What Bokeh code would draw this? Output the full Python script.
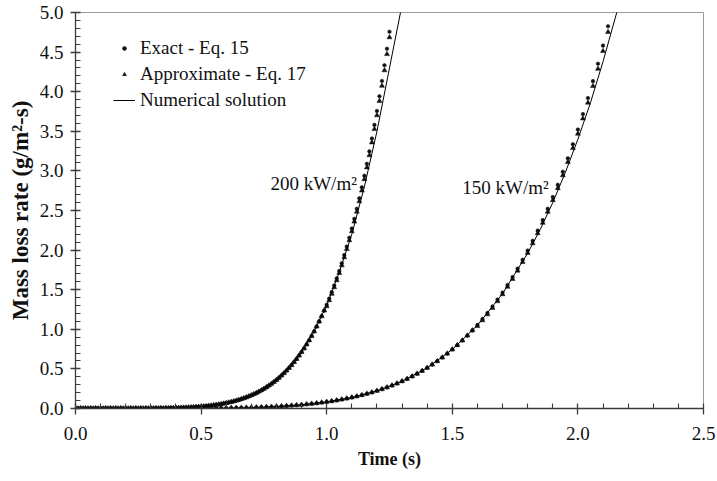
from bokeh.plotting import figure
from bokeh.models import Range1d, FixedTicker, Legend, LegendItem, PrintfTickFormatter
from bokeh.core.properties import value
from bokeh.embed import file_html
from bokeh.resources import INLINE

# ---------------- data ----------------
x_ticks = [0.0, 0.5, 1.0, 1.5, 2.0, 2.5]
x_minor = [0.1, 0.2, 0.3, 0.4, 0.6, 0.7, 0.8, 0.9, 1.1, 1.2, 1.3, 1.4,
           1.6, 1.7, 1.8, 1.9, 2.1, 2.2, 2.3, 2.4]
y_ticks = [0.0, 0.5, 1.0, 1.5, 2.0, 2.5, 3.0, 3.5, 4.0, 4.5, 5.0]
y_minor = [0.1, 0.2, 0.3, 0.4, 0.6, 0.7, 0.8, 0.9, 1.1, 1.2, 1.3, 1.4,
           1.6, 1.7, 1.8, 1.9, 2.1, 2.2, 2.3, 2.4, 2.6, 2.7, 2.8, 2.9,
           3.1, 3.2, 3.3, 3.4, 3.6, 3.7, 3.8, 3.9, 4.1, 4.2, 4.3, 4.4,
           4.6, 4.7, 4.8, 4.9]

# 200 kW/m2 markers (time step 0.01 s)
t200 = [0.00, 0.01, 0.02, 0.03, 0.04, 0.05, 0.06, 0.07, 0.08, 0.09,
        0.10, 0.11, 0.12, 0.13, 0.14, 0.15, 0.16, 0.17, 0.18, 0.19,
        0.20, 0.21, 0.22, 0.23, 0.24, 0.25, 0.26, 0.27, 0.28, 0.29,
        0.30, 0.31, 0.32, 0.33, 0.34, 0.35, 0.36, 0.37, 0.38, 0.39,
        0.40, 0.41, 0.42, 0.43, 0.44, 0.45, 0.46, 0.47, 0.48, 0.49,
        0.50, 0.51, 0.52, 0.53, 0.54, 0.55, 0.56, 0.57, 0.58, 0.59,
        0.60, 0.61, 0.62, 0.63, 0.64, 0.65, 0.66, 0.67, 0.68, 0.69,
        0.70, 0.71, 0.72, 0.73, 0.74, 0.75, 0.76, 0.77, 0.78, 0.79,
        0.80, 0.81, 0.82, 0.83, 0.84, 0.85, 0.86, 0.87, 0.88, 0.89,
        0.90, 0.91, 0.92, 0.93, 0.94, 0.95, 0.96, 0.97, 0.98, 0.99,
        1.00, 1.01, 1.02, 1.03, 1.04, 1.05, 1.06, 1.07, 1.08, 1.09,
        1.10, 1.11, 1.12, 1.13, 1.14, 1.15, 1.16, 1.17, 1.18, 1.19,
        1.20, 1.21, 1.22, 1.23, 1.24, 1.25]
exact200 = [0, 0, 0, 0, 0, 0, 0, 0, 0, 0,
            0, 0, 0, 0, 0, 0, 0, 0, 0, 0,
            0.0001, 0.0002, 0.0002, 0.0003, 0.0003, 0.0004, 0.0005, 0.0007, 0.0008, 0.0010,
            0.0012, 0.0015, 0.0018, 0.0022, 0.0026, 0.0030, 0.0036, 0.0042, 0.0049, 0.0057,
            0.0066, 0.0076, 0.0087, 0.0100, 0.0114, 0.0130, 0.0147, 0.0167, 0.0188, 0.0212,
            0.0238, 0.0267, 0.0299, 0.0334, 0.0372, 0.0414, 0.0459, 0.0508, 0.0562, 0.0620,
            0.0684, 0.0752, 0.0827, 0.0907, 0.0993, 0.1086, 0.1186, 0.1294, 0.1410, 0.1534,
            0.1666, 0.1809, 0.1961, 0.2125, 0.2299, 0.2484, 0.2682, 0.2891, 0.3116, 0.3355,
            0.3606, 0.3875, 0.4160, 0.4462, 0.4781, 0.5122, 0.5477, 0.5857, 0.6256, 0.6683,
            0.7125, 0.7596, 0.8090, 0.8607, 0.9158, 0.9734, 1.0346, 1.0986, 1.1653, 1.2361,
            1.310, 1.388, 1.469, 1.554, 1.643, 1.737, 1.835, 1.937, 2.044, 2.156,
            2.272, 2.395, 2.522, 2.655, 2.793, 2.939, 3.089, 3.246, 3.410, 3.581,
            3.757, 3.942, 4.136, 4.334, 4.542, 4.757]
approx200 = exact200[:100] + [
            1.290, 1.367, 1.447, 1.531, 1.618, 1.711, 1.807, 1.908, 2.014, 2.124,
            2.238, 2.359, 2.484, 2.615, 2.751, 2.895, 3.043, 3.197, 3.359, 3.527,
            3.701, 3.883, 4.074, 4.269, 4.474, 4.686]

# 150 kW/m2 markers (time step 0.02 s)
t150 = [0.00, 0.02, 0.04, 0.06, 0.08, 0.10, 0.12, 0.14, 0.16, 0.18,
        0.20, 0.22, 0.24, 0.26, 0.28, 0.30, 0.32, 0.34, 0.36, 0.38,
        0.40, 0.42, 0.44, 0.46, 0.48, 0.50, 0.52, 0.54, 0.56, 0.58,
        0.60, 0.62, 0.64, 0.66, 0.68, 0.70, 0.72, 0.74, 0.76, 0.78,
        0.80, 0.82, 0.84, 0.86, 0.88, 0.90, 0.92, 0.94, 0.96, 0.98,
        1.00, 1.02, 1.04, 1.06, 1.08, 1.10, 1.12, 1.14, 1.16, 1.18,
        1.20, 1.22, 1.24, 1.26, 1.28, 1.30, 1.32, 1.34, 1.36, 1.38,
        1.40, 1.42, 1.44, 1.46, 1.48, 1.50, 1.52, 1.54, 1.56, 1.58,
        1.60, 1.62, 1.64, 1.66, 1.68, 1.70, 1.72, 1.74, 1.76, 1.78,
        1.80, 1.82, 1.84, 1.86, 1.88, 1.90, 1.92, 1.94, 1.96, 1.98,
        2.00, 2.02, 2.04, 2.06, 2.08, 2.10, 2.12]
exact150 = [0, 0, 0, 0, 0, 0, 0, 0, 0, 0,
            0, 0, 0, 0, 0, 0.0001, 0.0002, 0.0002, 0.0003, 0.0004,
            0.0006, 0.0008, 0.0010, 0.0013, 0.0016, 0.0020, 0.0024, 0.0030, 0.0036, 0.0044,
            0.0053, 0.0063, 0.0075, 0.0088, 0.0104, 0.0122, 0.0142, 0.0164, 0.0189, 0.0218,
            0.0250, 0.0286, 0.0325, 0.0370, 0.0418, 0.0472, 0.0532, 0.0597, 0.0669, 0.0748,
            0.0834, 0.0928, 0.1031, 0.1143, 0.1264, 0.1396, 0.1538, 0.1691, 0.1858, 0.2039,
            0.2231, 0.2441, 0.2666, 0.2905, 0.3163, 0.3440, 0.3734, 0.4053, 0.4391, 0.4747,
            0.5132, 0.5543, 0.5975, 0.6434, 0.6928, 0.7453, 0.8001, 0.8590, 0.9204, 0.9861,
            1.0555, 1.1286, 1.2056, 1.2879, 1.3744, 1.4638, 1.5590, 1.6603, 1.7665, 1.8776,
            1.9937, 2.1170, 2.2456, 2.3797, 2.5219, 2.6698, 2.8236, 2.9893, 3.1582, 3.3368,
            3.5220, 3.7173, 3.9196, 4.1330, 4.3536, 4.5814, 4.8259]
approx150 = exact150[:80] + [
            1.040, 1.112, 1.188, 1.269, 1.354, 1.442, 1.536, 1.635, 1.740, 1.849,
            1.964, 2.085, 2.212, 2.344, 2.484, 2.630, 2.781, 2.944, 3.111, 3.287,
            3.469, 3.661, 3.861, 4.071, 4.288, 4.513, 4.753]

# numerical solution curves
num200_t = [0, 0.3, 0.4, 0.5, 0.55, 0.6, 0.65, 0.7, 0.75, 0.8, 0.85, 0.9, 0.95,
            1.0, 1.05, 1.1, 1.15, 1.2, 1.25, 1.3]
num200_v = [0, 0.001, 0.0066, 0.0238, 0.0414, 0.0684, 0.1086, 0.1666, 0.2484, 0.3606,
            0.5122, 0.7125, 0.9734, 1.30, 1.72, 2.20, 2.80, 3.50, 4.30, 5.10]
num150_t = [0, 0.4, 0.5, 0.6, 0.7, 0.8, 0.9, 1.0, 1.1, 1.2, 1.3, 1.4, 1.5, 1.6,
            1.7, 1.8, 1.85, 1.9, 1.95, 2.0, 2.05, 2.1, 2.16]
num150_v = [0, 0.0006, 0.002, 0.0053, 0.0122, 0.025, 0.0472, 0.0834, 0.1396, 0.2231,
            0.344, 0.5132, 0.7453, 1.05, 1.45, 1.96, 2.26, 2.60, 2.98, 3.40, 3.86, 4.38, 5.06]

# curve labels
label_x = [0.776, 1.54]
label_y = [2.845, 2.79]
label_text = ["200 kW/m\u00b2", "150 kW/m\u00b2"]

legend_labels = ["Exact - Eq. 15", "Approximate - Eq. 17", "Numerical solution"]

# ---------------- figure ----------------
SERIF = "Liberation Serif"
SERIF_BOLD = "serif"
INK = "#111111"
AXIS = "#3c3c3c"

p = figure(width=716, height=474, output_backend="svg", toolbar_location=None,
           x_range=Range1d(0, 2.5), y_range=Range1d(0, 5),
           min_border_left=75, min_border_right=13, min_border_top=12, min_border_bottom=66)
p.grid.visible = False
p.background_fill_color = "white"
p.border_fill_color = "white"
p.outline_line_color = "#9a9a9a"
p.outline_line_width = 1

for ax, ticks, minor in ((p.xaxis, x_ticks, x_minor), (p.yaxis, y_ticks, y_minor)):
    ax.ticker = FixedTicker(ticks=ticks, minor_ticks=minor)
    ax.formatter = PrintfTickFormatter(format="%.1f")
    ax.axis_line_color = AXIS
    ax.axis_line_width = 1.3
    ax.major_tick_line_color = AXIS
    ax.minor_tick_line_color = AXIS
    ax.major_tick_line_width = 1.3
    ax.minor_tick_line_width = 1.1
    ax.major_label_text_font = SERIF
    ax.major_label_text_font_size = "19px"
    ax.major_label_text_color = "#111111"
    ax.axis_label_text_font = SERIF_BOLD
    ax.axis_label_text_font_style = "bold"
    ax.axis_label_text_color = "#111111"
    ax.minor_tick_in = 5
    ax.minor_tick_out = 0

p.xaxis.major_tick_in = 5
p.xaxis.major_tick_out = 6
p.xaxis.major_label_standoff = 12
p.xaxis.axis_label = "Time (s)"
p.xaxis.axis_label_text_font_size = "18px"
p.xaxis.axis_label_standoff = 6

p.yaxis.major_tick_in = 5
p.yaxis.major_tick_out = 5
p.yaxis.major_label_standoff = 7
p.yaxis.axis_label = "Mass loss rate (g/m\u00b2-s)"
p.yaxis.axis_label_text_font_size = "23px"
p.yaxis.axis_label_standoff = 4

# markers
r_e200 = p.scatter(t200, exact200, marker="circle", size=3.6, fill_color=INK, line_color=INK, line_width=0.5)
r_a200 = p.scatter(t200, approx200, marker="triangle", size=5, fill_color=INK, line_color=INK, line_width=0.5)
r_e150 = p.scatter(t150, exact150, marker="circle", size=3.6, fill_color=INK, line_color=INK, line_width=0.5)
r_a150 = p.scatter(t150, approx150, marker="triangle", size=5, fill_color=INK, line_color=INK, line_width=0.5)

# numerical lines
r_n200 = p.line(num200_t, num200_v, line_color="#000000", line_width=1)
r_n150 = p.line(num150_t, num150_v, line_color="#000000", line_width=1)

# curve labels
p.text(x=label_x, y=label_y, text=label_text, text_font=value(SERIF),
       text_font_size="19px", text_color="#111111",
       text_align="left", text_baseline="alphabetic")

legend = Legend(items=[
    LegendItem(label=legend_labels[0], renderers=[r_e200]),
    LegendItem(label=legend_labels[1], renderers=[r_a200]),
    LegendItem(label=legend_labels[2], renderers=[r_n200]),
], location=(38, 295))
legend.border_line_color = None
legend.background_fill_alpha = 0
legend.padding = 0
legend.margin = 0
legend.spacing = 0
legend.label_height = 26
legend.glyph_height = 10
legend.glyph_width = 22
legend.label_standoff = 5
legend.label_text_font = SERIF
legend.label_text_font_size = "19px"
legend.label_text_color = "#111111"
p.add_layout(legend)

open("out.html", "w").write(file_html(p, INLINE))
